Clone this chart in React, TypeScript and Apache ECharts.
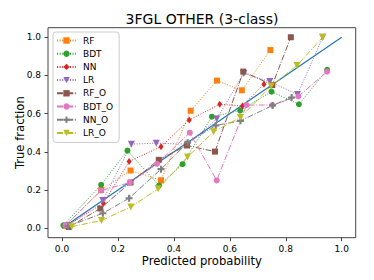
import React, { useEffect, useRef } from "react";
import * as echarts from "echarts";

const tickValues = [0, 0.2, 0.4, 0.6, 0.8, 1.0];

const diagX = [0, 1];
const diagY = [0, 1];

const rfX = [0.012, 0.14, 0.245, 0.354, 0.46, 0.554, 0.643, 0.745];
const rfY = [0.012, 0.2, 0.302, 0.251, 0.615, 0.773, 0.722, 0.933];
const bdtX = [0.005, 0.14, 0.234, 0.347, 0.431, 0.536, 0.637, 0.749, 0.847, 0.948];
const bdtY = [0.015, 0.227, 0.406, 0.223, 0.335, 0.584, 0.616, 0.715, 0.649, 0.829];
const nnX = [0.015, 0.148, 0.24, 0.354, 0.455, 0.564, 0.645, 0.722];
const nnY = [0.01, 0.131, 0.349, 0.427, 0.567, 0.649, 0.64, 0.754];
const lrX = [0.02, 0.146, 0.248, 0.337, 0.45, 0.553, 0.65, 0.743, 0.842, 0.932];
const lrY = [0.012, 0.145, 0.44, 0.445, 0.44, 0.572, 0.81, 0.768, 0.7, 1.0];
const rfoX = [0.025, 0.137, 0.245, 0.346, 0.447, 0.547, 0.648, 0.752, 0.818];
const rfoY = [0.006, 0.103, 0.239, 0.358, 0.433, 0.401, 0.82, 0.75, 1.0];
const bdtoX = [0.012, 0.14, 0.243, 0.34, 0.457, 0.553, 0.66, 0.752, 0.845, 0.948];
const bdtoY = [0.015, 0.197, 0.239, 0.337, 0.5, 0.25, 0.645, 0.645, 0.69, 0.82];
const nnoX = [0.022, 0.146, 0.24, 0.354, 0.449, 0.55, 0.638, 0.753, 0.821];
const nnoY = [0.01, 0.078, 0.157, 0.309, 0.448, 0.538, 0.562, 0.643, 0.684];
const lroX = [0.035, 0.141, 0.246, 0.344, 0.449, 0.542, 0.638, 0.748, 0.84, 0.932];
const lroY = [0.008, 0.04, 0.111, 0.206, 0.373, 0.505, 0.58, 0.745, 0.852, 1.0];

const FONT = '"DejaVu Sans", sans-serif';
const DOTTED = [1, 1.6];
const DASHDOT = [6, 1.6, 1, 1.6];
const PLUS = "path://M3.5,0H6.5V3.5H10V6.5H6.5V10H3.5V6.5H0V3.5H3.5Z";

const zip = (xs: number[], ys: number[]) => xs.map((x, i) => [x, ys[i]]);

type Spec = {
  name: string; xs: number[]; ys: number[]; color: string; dash: number[];
  symbol: string; size: number | number[]; rotate?: number;
};

const specs: Spec[] = [
  { name: "RF", xs: rfX, ys: rfY, color: "#ff7f0e", dash: DOTTED, symbol: "rect", size: 6 },
  { name: "BDT", xs: bdtX, ys: bdtY, color: "#2ca02c", dash: DOTTED, symbol: "circle", size: 6 },
  { name: "NN", xs: nnX, ys: nnY, color: "#d62728", dash: DOTTED, symbol: "diamond", size: [5, 7] },
  { name: "LR", xs: lrX, ys: lrY, color: "#9467bd", dash: DOTTED, symbol: "triangle", size: 7, rotate: 180 },
  { name: "RF_O", xs: rfoX, ys: rfoY, color: "#8c564b", dash: DASHDOT, symbol: "rect", size: 6 },
  { name: "BDT_O", xs: bdtoX, ys: bdtoY, color: "#e377c2", dash: DASHDOT, symbol: "circle", size: 6 },
  { name: "NN_O", xs: nnoX, ys: nnoY, color: "#7f7f7f", dash: DASHDOT, symbol: PLUS, size: 7 },
  { name: "LR_O", xs: lroX, ys: lroY, color: "#bcbd22", dash: DASHDOT, symbol: "triangle", size: 7, rotate: 180 },
];

export default function App() {
  const ref = useRef<HTMLDivElement>(null);
  useEffect(() => {
    if (!ref.current) return;
    const chart = echarts.init(ref.current, undefined, { renderer: "svg" });
    const axisCommon = {
      type: "value",
      min: -0.05,
      max: 1.05,
      splitLine: { show: false },
      axisLine: { show: false, onZero: false },
      axisTick: { show: true, inside: false, length: 3.5, lineStyle: { color: "#444", width: 1 }, customValues: tickValues },
      axisLabel: { customValues: tickValues, color: "#000", fontSize: 9, fontFamily: FONT, formatter: (v: number) => v.toFixed(1) },
      nameLocation: "middle",
      nameMoveOverlap: false,
      nameTextStyle: { color: "#000", fontSize: 11.6, fontFamily: FONT },
    };
    chart.setOption({
      animation: false,
      backgroundColor: "#fff",
      textStyle: { fontFamily: FONT },
      grid: { left: 48, right: 18.3, top: 27.7, bottom: 42.3, show: true, borderColor: "#444", borderWidth: 1, backgroundColor: "transparent" },
      xAxis: { ...axisCommon, name: "Predicted probability", nameGap: 17, axisLabel: { ...axisCommon.axisLabel, margin: 6.5 } },
      yAxis: { ...axisCommon, name: "True fraction", nameGap: 22, axisLabel: { ...axisCommon.axisLabel, margin: 7 } },
      legend: {
        orient: "vertical",
        left: 53,
        top: 32,
        padding: [3, 6, 4, 3],
        itemWidth: 19,
        itemHeight: 8,
        itemGap: 2.2,
        backgroundColor: "rgba(255,255,255,0.8)",
        borderColor: "#ccc",
        borderWidth: 1,
        borderRadius: 3,
        textStyle: { fontSize: 9, fontFamily: FONT, color: "#000", lineHeight: 11, padding: [0, 0, 0, 2] },
        data: specs.map((s) => s.name),
      },
      graphic: [
        {
          type: "text",
          x: 202,
          y: 19,
          style: { text: "3FGL OTHER (3-class)", fontSize: 14, fontFamily: FONT, fill: "#000", align: "center", verticalAlign: "middle" },
        },
      ],
      series: [
        {
          name: "diag",
          type: "line",
          data: zip(diagX, diagY),
          showSymbol: false,
          symbol: "none",
          lineStyle: { color: "#1f77b4", width: 1.2 },
          silent: true,
        },
        ...specs.map((s) => ({
          name: s.name,
          type: "line",
          data: zip(s.xs, s.ys),
          symbol: s.symbol,
          symbolSize: s.size,
          symbolRotate: s.rotate || 0,
          showSymbol: true,
          color: s.color,
          itemStyle: { color: s.color, borderWidth: 0 },
          lineStyle: { color: s.color, width: 1, type: s.dash },
        })),
      ],
    });
    return () => chart.dispose();
  }, []);
  return <div ref={ref} style={{ position: "fixed", left: 0, top: 0, width: 374, height: 280 }} />;
}
